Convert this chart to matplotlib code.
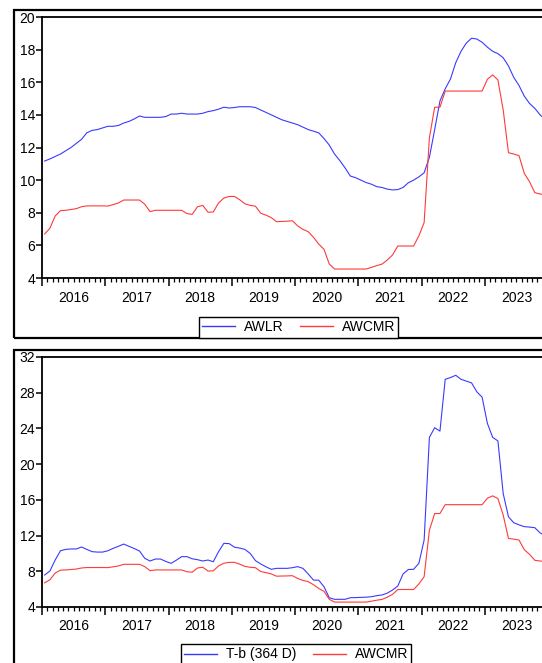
import numpy as np
import matplotlib
matplotlib.use("Agg")
import matplotlib.pyplot as plt
from matplotlib.patches import Rectangle

plt.rcParams['font.family'] = ['Liberation Sans', 'DejaVu Sans']

# monthly data, Jan 2016 .. Dec 2023
years = ['2016', '2017', '2018', '2019', '2020', '2021', '2022', '2023']

awlr = [11.17, 11.3, 11.45, 11.6, 11.8, 12.0, 12.25, 12.5, 12.9, 13.05, 13.1, 13.2,
        13.3, 13.3, 13.35, 13.5, 13.6, 13.75, 13.93, 13.85, 13.85, 13.85, 13.85, 13.9,
        14.05, 14.05, 14.1, 14.05, 14.05, 14.05, 14.1, 14.2, 14.26, 14.35, 14.47, 14.42,
        14.45, 14.5, 14.5, 14.5, 14.45, 14.3, 14.15, 14.0, 13.85, 13.7, 13.6, 13.5,
        13.4, 13.25, 13.1, 13.0, 12.9, 12.55, 12.15, 11.6, 11.2, 10.75, 10.25, 10.15,
        10.0, 9.85, 9.75, 9.6, 9.55, 9.45, 9.4, 9.42, 9.55, 9.84, 10.0, 10.2,
        10.45, 11.4, 13.1, 14.85, 15.6, 16.2, 17.2, 17.9, 18.4, 18.7, 18.65, 18.45,
        18.15, 17.9, 17.75, 17.5, 17.0, 16.3, 15.8, 15.15, 14.7, 14.4, 14.0, 13.7]

awcmr = [6.7, 7.05, 7.8, 8.13, 8.15, 8.2, 8.25, 8.37, 8.42, 8.42, 8.42, 8.42,
         8.41, 8.5, 8.6, 8.78, 8.78, 8.78, 8.78, 8.52, 8.07, 8.15, 8.15, 8.15,
         8.15, 8.15, 8.15, 7.95, 7.9, 8.37, 8.45, 8.03, 8.05, 8.6, 8.9, 9.0,
         9.0, 8.8, 8.55, 8.45, 8.4, 7.97, 7.85, 7.7, 7.45, 7.47, 7.48, 7.51,
         7.2, 6.98, 6.84, 6.5, 6.08, 5.76, 4.86, 4.55, 4.55, 4.55, 4.55, 4.55,
         4.55, 4.55, 4.65, 4.76, 4.85, 5.1, 5.41, 5.96, 5.96, 5.96, 5.96, 6.58,
         7.4, 12.6, 14.47, 14.47, 15.46, 15.46, 15.46, 15.46, 15.46, 15.46, 15.46, 15.46,
         16.18, 16.45, 16.14, 14.3, 11.68, 11.6, 11.5, 10.42, 9.9, 9.23, 9.15, 9.1]

tbill = [7.58, 8.03, 9.26, 10.3, 10.45, 10.5, 10.5, 10.72, 10.45, 10.2, 10.15, 10.15,
         10.3, 10.57, 10.8, 11.05, 10.8, 10.55, 10.27, 9.45, 9.15, 9.37, 9.37, 9.1,
         8.89, 9.25, 9.64, 9.64, 9.4, 9.3, 9.15, 9.26, 9.07, 10.2, 11.13, 11.1,
         10.7, 10.6, 10.45, 10.0, 9.19, 8.82, 8.5, 8.22, 8.33, 8.33, 8.33, 8.4,
         8.52, 8.33, 7.7, 7.02, 7.0, 6.27, 5.04, 4.86, 4.86, 4.86, 5.04, 5.05,
         5.08, 5.1, 5.15, 5.27, 5.35, 5.55, 5.9, 6.35, 7.7, 8.2, 8.22, 8.89,
         11.5, 23.0, 24.08, 23.7, 29.5, 29.7, 29.95, 29.5, 29.3, 29.1, 28.1, 27.5,
         24.57, 23.0, 22.6, 16.7, 14.1, 13.44, 13.2, 13.0, 12.95, 12.88, 12.3, 12.0]

x = np.arange(len(awlr)) + 0.5

blue = '#3a3aff'
red = '#ff3a3a'

fig = plt.figure(figsize=(5.42, 6.63), dpi=100)
W, H = 542.0, 663.0

# outer frames
fig.add_artist(Rectangle((14 / W, 1 - 338 / H), 1.0, (338 - 9.5) / H,
                         transform=fig.transFigure, fill=False, lw=1.6,
                         edgecolor='black', clip_on=False))
fig.add_artist(Rectangle((14 / W, -0.1), 1.0, (1 - 350 / H) + 0.1,
                         transform=fig.transFigure, fill=False, lw=1.6,
                         edgecolor='black', clip_on=False))

ax1 = fig.add_axes([42 / W, 1 - 278 / H, (548 - 42) / W, (278 - 17) / H])
ax2 = fig.add_axes([42 / W, 1 - 607 / H, (548 - 42) / W, (607 - 357) / H])


def style(ax, ylim, ystep):
    ax.set_xlim(0, len(awlr))
    ax.set_ylim(*ylim)
    ax.set_yticks(np.arange(ylim[0], ylim[1] + 0.1, ystep))
    ax.set_xticks(np.arange(0, len(awlr) + 1, 12))
    ax.set_xticks(np.arange(0, len(awlr) + 1, 1), minor=True)
    ax.set_xticklabels([])
    ax.tick_params(axis='x', which='major', direction='out', length=6, width=1.1)
    ax.tick_params(axis='x', which='minor', direction='out', length=3, width=0.9)
    ax.tick_params(axis='y', direction='out', length=4, width=1.1, pad=1,
                   labelsize=10)
    for s in ax.spines.values():
        s.set_linewidth(1.3)
    for i, yr in enumerate(years):
        ax.annotate(yr, xy=(i * 12 + 6, 0), xycoords=('data', 'axes fraction'),
                    xytext=(0, -9), textcoords='offset points',
                    ha='center', va='top', fontsize=10)


ax1.plot(x, awlr, color=blue, lw=0.8, label='AWLR')
ax1.plot(x, awcmr, color=red, lw=0.8, label='AWCMR')
style(ax1, (4, 20), 2)

ax2.plot(x, tbill, color=blue, lw=0.8, label='T-b (364 D)')
ax2.plot(x, awcmr, color=red, lw=0.8, label='AWCMR')
style(ax2, (4, 32), 4)

legkw = dict(ncol=2, fontsize=10, frameon=True, fancybox=False,
             edgecolor='black', framealpha=1, handlelength=2.4,
             handletextpad=0.6, columnspacing=1.2, borderpad=0.25,
             borderaxespad=0)
h, l = ax1.get_legend_handles_labels()
lg1 = fig.legend(h, l, loc='lower center', bbox_to_anchor=(298.5 / W, 1 - 337.5 / H), **legkw)
lg1.get_frame().set_linewidth(1.0)
h, l = ax2.get_legend_handles_labels()
lg2 = fig.legend(h, l, loc='upper center', bbox_to_anchor=(296 / W, 1 - 644 / H), **legkw)
lg2.get_frame().set_linewidth(1.0)
for lg in (lg1, lg2):
    for ln in lg.get_lines():
        ln.set_linewidth(1.0)

fig.savefig('out.png', dpi=100)
